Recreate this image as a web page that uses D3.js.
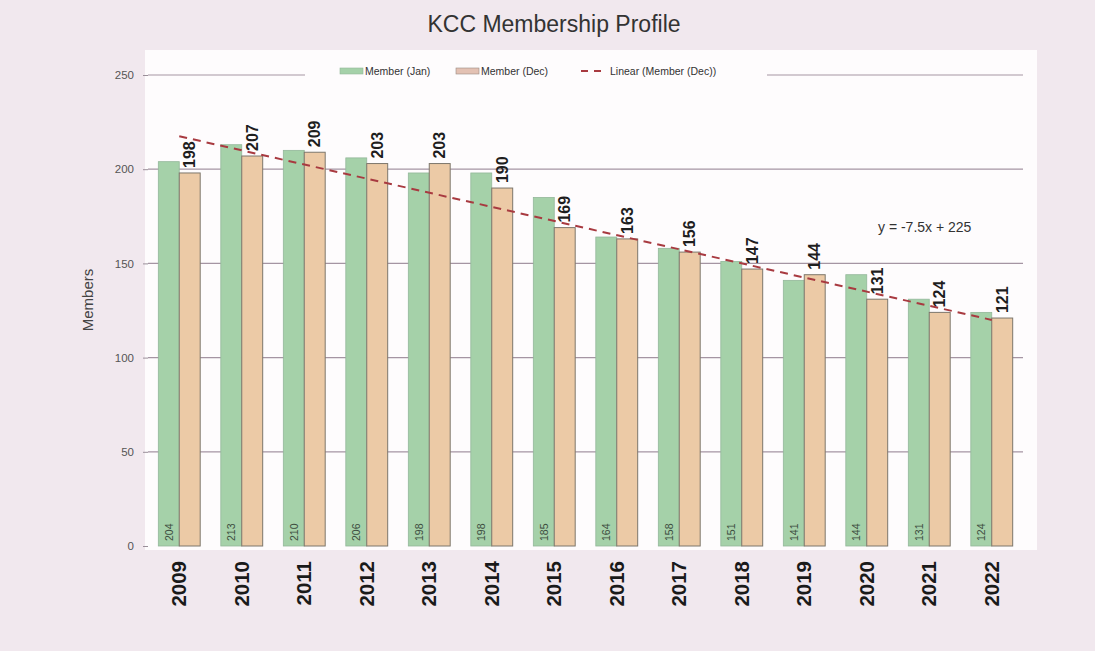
<!DOCTYPE html>
<html>
<head>
<meta charset="utf-8">
<script src="https://cdn.jsdelivr.net/npm/d3@7"></script>
<style>
  html, body { margin: 0; padding: 0; background: #f1e8ee; }
  svg { display: block; font-family: "Liberation Sans", Arial, sans-serif; }
</style>
</head>
<body>
<svg id="chart" width="1095" height="651"></svg>
<script>
const years = ["2009","2010","2011","2012","2013","2014","2015","2016","2017","2018","2019","2020","2021","2022"];
const memberJan = [204, 213, 210, 206, 198, 198, 185, 164, 158, 151, 141, 144, 131, 124];
const memberDec = [198, 207, 209, 203, 203, 190, 169, 163, 156, 147, 144, 131, 124, 121];
const yTicks = [0, 50, 100, 150, 200, 250];
const trendSlope = -7.5, trendIntercept = 225;
const titleText = "KCC Membership Profile";
const legendLabels = ["Member (Jan)", "Member (Dec)", "Linear (Member (Dec))"];

(function () {
const svg = d3.select("#chart");
const pLeft = 148, pRight = 1023, pTop = 75, pBottom = 546;

// plot background
svg.append("rect").attr("x", 145).attr("y", 50).attr("width", 892).attr("height", 500).attr("fill", "#fefcfd");

const x = d3.scaleBand().domain(years).range([pLeft, pRight]).paddingInner(0.33).paddingOuter(0.165);
const y = d3.scaleLinear().domain([0, 250]).range([pBottom, pTop]);
const xs = d3.scaleBand().domain(["jan","dec"]).range([0, x.bandwidth()]);

// gridlines
svg.append("g").selectAll("line").data(yTicks.filter(d => d > 0)).join("line")
  .attr("x1", pLeft).attr("x2", pRight)
  .attr("y1", d => y(d)).attr("y2", d => y(d))
  .attr("stroke", "#a595a3").attr("stroke-width", 1.2);

// y axis
const yAxis = d3.axisLeft(y).tickValues(yTicks).tickSize(5).tickPadding(9);
const ga = svg.append("g").attr("transform", `translate(${pLeft},0)`).call(yAxis);
ga.select(".domain").remove();
ga.selectAll(".tick line").attr("stroke", "#9a8f99");
ga.selectAll(".tick text").attr("fill", "#555").style("font-size", "11.5px").style("font-family", "Liberation Sans, Arial, sans-serif");

// bars
const groups = svg.append("g").selectAll("g").data(years).join("g")
  .attr("transform", d => `translate(${x(d)},0)`);

groups.append("rect")
  .attr("x", xs("jan")).attr("width", xs.bandwidth())
  .attr("y", (d, i) => y(memberJan[i])).attr("height", (d, i) => y(0) - y(memberJan[i]))
  .attr("fill", "#a5d1a9").attr("stroke", "#93b79a").attr("stroke-width", 0.8);

groups.append("rect")
  .attr("x", xs("dec")).attr("width", xs.bandwidth())
  .attr("y", (d, i) => y(memberDec[i])).attr("height", (d, i) => y(0) - y(memberDec[i]))
  .attr("fill", "#eccaa6").attr("stroke", "#7d776c").attr("stroke-width", 1);

// Jan value labels inside bars at bottom
groups.append("text")
  .attr("transform", (d, i) => `translate(${xs("jan") + xs.bandwidth() / 2 + 4},${y(0) - 5}) rotate(-90)`)
  .attr("text-anchor", "start")
  .style("font-size", "10.5px").attr("fill", "#3d4d40")
  .text((d, i) => memberJan[i]);

// Dec value labels above bars
groups.append("text")
  .attr("transform", (d, i) => `translate(${xs("dec") + xs.bandwidth() / 2 + 5.5},${y(memberDec[i]) - 5}) rotate(-90)`)
  .attr("text-anchor", "start")
  .style("font-size", "16px").style("font-weight", "bold").attr("fill", "#1e1e1e")
  .text((d, i) => memberDec[i]);

// trend line
const trend = d3.line()
  .x(d => x(d) + x.bandwidth() / 2)
  .y(d => y(trendSlope * (years.indexOf(d) + 1) + trendIntercept));
svg.append("path").datum([years[0], years[years.length - 1]])
  .attr("d", trend)
  .attr("fill", "none").attr("stroke", "#a83a40").attr("stroke-width", 2)
  .attr("stroke-dasharray", "8,6");

// x labels
svg.append("g").selectAll("text").data(years).join("text")
  .attr("transform", d => `translate(${x(d) + x.bandwidth() / 2 + 7},${561}) rotate(-90)`)
  .attr("text-anchor", "end")
  .style("font-size", "20.5px").style("font-weight", "bold").attr("fill", "#1a1a1a")
  .text(d => d);

// y label
svg.append("text")
  .attr("transform", `translate(${93},${300}) rotate(-90)`)
  .attr("text-anchor", "middle")
  .style("font-size", "15px").attr("fill", "#444")
  .text("Members");

// title
svg.append("text").attr("x", 554).attr("y", 32).attr("text-anchor", "middle")
  .style("font-size", "23px").attr("fill", "#333")
  .text(titleText);

// legend
const lg = svg.append("g");
lg.append("rect").attr("x", 305).attr("y", 62).attr("width", 462).attr("height", 18).attr("fill", "#fefcfd");
const legendItems = [
  { x: 340, type: "rect", fill: "#a5d1a9", stroke: "#93b79a" },
  { x: 456, type: "rect", fill: "#e3c1b3", stroke: "#9a8a84" },
  { x: 581, type: "line" }
];
legendItems.forEach((it, i) => {
  if (it.type === "rect") {
    lg.append("rect").attr("x", it.x).attr("y", 68).attr("width", 23).attr("height", 6)
      .attr("fill", it.fill).attr("stroke", it.stroke).attr("stroke-width", 0.6);
  } else {
    lg.append("line").attr("x1", it.x).attr("x2", it.x + 24).attr("y1", 71).attr("y2", 71)
      .attr("stroke", "#a83a40").attr("stroke-width", 2).attr("stroke-dasharray", "7,6");
  }
  lg.append("text").attr("x", it.x + (it.type === "rect" ? 25 : 29)).attr("y", 75)
    .style("font-size", "10.5px").attr("fill", "#333").text(legendLabels[i]);
});

// trendline equation
svg.append("text").attr("x", 878).attr("y", 232)
  .style("font-size", "14px").attr("fill", "#333")
  .text("y = -7.5x + 225");
})();
</script>
</body>
</html>
